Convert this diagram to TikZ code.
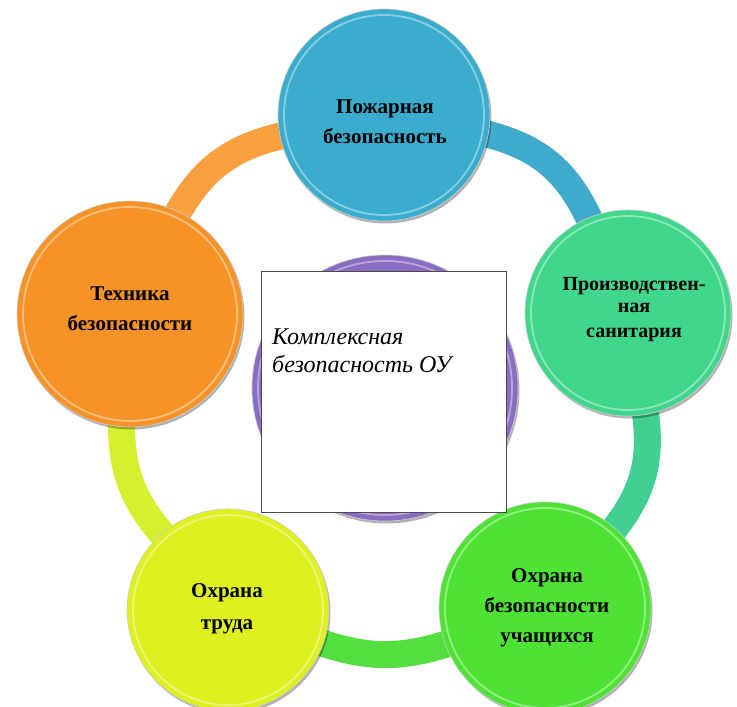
\documentclass[tikz,border=0pt]{standalone}
\usepackage{fontspec}
\setmainfont{Liberation Serif}
\usetikzlibrary{shadows}
\pgfdeclarelayer{bg}
\pgfsetlayers{bg,main}
\definecolor{cBlue}{RGB}{58,172,206}
\definecolor{cOrange}{RGB}{246,146,38}
\definecolor{cTeal}{RGB}{64,214,140}
\definecolor{cYellow}{RGB}{222,240,32}
\definecolor{cGreen}{RGB}{78,226,52}
\definecolor{cPurple}{RGB}{138,108,194}
\definecolor{rBlue}{RGB}{64,170,205}
\definecolor{rOrange}{RGB}{250,160,64}
\definecolor{rYellow}{RGB}{214,240,48}
\definecolor{rTeal}{RGB}{66,208,146}
\definecolor{rGreen}{RGB}{84,222,64}
\begin{document}
\begin{tikzpicture}[x=1pt,y=1pt,
  bubble/.style={circle, inner sep=0pt, minimum size=#1, draw=black!20, line width=0.6pt,
    drop shadow={shadow xshift=1.5pt, shadow yshift=-2.5pt, opacity=0.3, fill=black}},
  rim/.style={line width=1.8pt, draw=white, opacity=0.4},
  ring/.style={line width=27pt, shorten <=-25pt, shorten >=-25pt},
  lbl/.style={font=\bfseries\fontsize{21}{30}\selectfont, align=center, inner sep=0pt, text=black},
]
\useasboundingbox (0,0) rectangle (737,-707);

% central circle
\node[bubble=266, fill=cPurple] (hub) at (385,-388) {};
\draw[rim] (hub) circle[radius=127];

% outer circles
\node[bubble=212, fill=cBlue]   (fire)  at (384,-115) {};
\node[bubble=226, fill=cOrange] (tech)  at (130,-314) {};
\node[bubble=206, fill=cTeal]   (san)   at (628,-313) {};
\node[bubble=202, fill=cYellow] (labor) at (228,-610) {};
\node[bubble=212, fill=cGreen]  (stud)  at (545,-608) {};
\foreach \n/\r in {fire/100, tech/107, san/97, labor/95, stud/100}
  \draw[rim] (\n) circle[radius=\r];

% ring
\begin{pgfonlayer}{bg}
\draw[ring, rBlue]   (fire)  to[bend left=29] (san);
\draw[ring, rTeal]   (san)   to[bend left=26] (stud);
\draw[ring, rGreen]  (stud)  to[bend left=20] (labor);
\draw[ring, rYellow] (labor) to[bend left=23] (tech);
\draw[ring, rOrange] (tech)  to[bend left=27] (fire);
\end{pgfonlayer}

% labels
\node[lbl] (tfire) at (385,-122) {Пожарная\\безопасность};
\node[lbl] (ttech) at (130,-309) {Техника\\безопасности};
\node[lbl, font=\bfseries\fontsize{20}{22}\selectfont] (tsan) at (634,-310) {Производствен-\\ная\\[3pt]санитария};
\node[lbl, font=\bfseries\fontsize{21}{32}\selectfont] (tlabor) at (227,-609) {Охрана\\труда};
\node[lbl] (tstud) at (547,-608) {Охрана\\безопасности\\учащихся};

% white box
\node[draw=black!70, line width=0.8pt, fill=white, inner sep=0pt,
      minimum width=245, minimum height=241, anchor=north west] (box) at (261,-271) {};
\node[font=\itshape\fontsize{24}{28}\selectfont, align=left, inner sep=0pt, anchor=north west]
      (boxtext) at (272,-329) {Комплексная\\безопасность ОУ};
\end{tikzpicture}
\end{document}
